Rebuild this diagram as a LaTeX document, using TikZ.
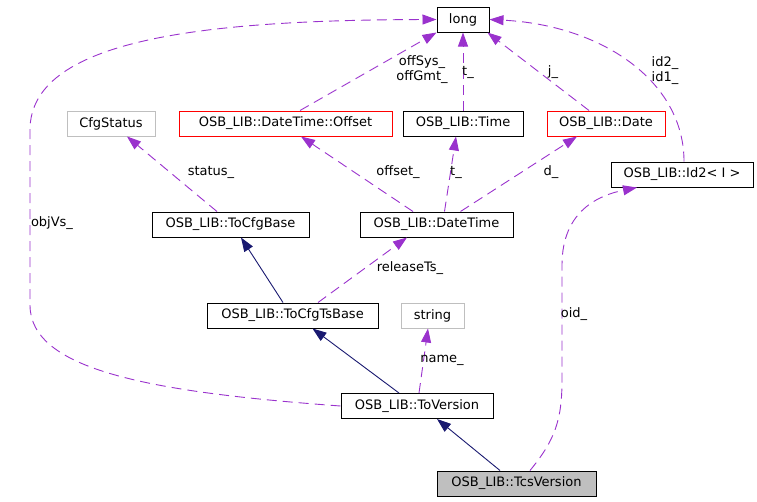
\documentclass[tikz,border=0pt]{standalone}
\usepackage{fontspec}
\setmainfont{DejaVu Sans}
\usetikzlibrary{arrows.meta}
\definecolor{usepurple}{HTML}{9A32CD}
\definecolor{basenavy}{HTML}{191970}
\definecolor{undocgray}{HTML}{BFBFBF}
\tikzstyle{cls}=[draw=black,line width=1pt,minimum height=25pt,inner sep=0pt,font=\fontsize{13}{15}\selectfont]
\tikzstyle{undoc}=[cls,draw=undocgray]
\tikzstyle{nodoc}=[cls,draw=red]
\tikzstyle{usage}=[usepurple,line width=0.9pt,dash pattern=on 10pt off 6pt,-{Triangle[length=14pt,width=10pt]}]
\tikzstyle{inherit}=[basenavy,line width=0.9pt,-{Triangle[length=14pt,width=10pt]}]
\tikzstyle{lbl}=[text=black,font=\fontsize{13}{15}\selectfont,inner sep=0pt,align=center]

\begin{document}
\begin{tikzpicture}[x=1pt,y=-1pt]
\useasboundingbox (0, 0) rectangle (757, 501);
\node[cls, minimum width=52pt] at (463, 19.5) (long) {long};
\node[undoc, minimum width=88pt] at (111, 123.5) (cfgstatus) {CfgStatus};
\node[nodoc, minimum width=213pt] at (285.5, 123.5) (offset) {OSB\_LIB::DateTime::Offset};
\node[cls, minimum width=120pt] at (463, 123.5) (time) {OSB\_LIB::Time};
\node[nodoc, minimum width=118pt] at (606, 123.5) (date) {OSB\_LIB::Date};
\node[cls, minimum width=142pt] at (682, 174.5) (id2) {OSB\_LIB::Id2< I >};
\node[cls, minimum width=157pt] at (230.5, 224.5) (cfgbase) {OSB\_LIB::ToCfgBase};
\node[cls, minimum width=153pt] at (436.5, 224.5) (datetime) {OSB\_LIB::DateTime};
\node[cls, minimum width=171pt] at (292.5, 315.5) (tsbase) {OSB\_LIB::ToCfgTsBase};
\node[undoc, minimum width=63pt] at (432.5, 315.5) (string) {string};
\node[cls, minimum width=152pt] at (417, 406) (version) {OSB\_LIB::ToVersion};
\node[cls, fill=undocgray, minimum width=159pt] at (516.5, 483.5) (tcs) {OSB\_LIB::TcsVersion};
% members pointing at long
\draw[usage] ([xshift=14.5pt]offset.north) -- (long.south west) node[lbl] at (422, 70) {offSys\_\\offGmt\_};
\draw[usage] (time.north) -- (long.south) node[lbl] at (468, 72) {t\_};
\draw[usage] ([xshift=-17pt]date.north) -- ([xshift=-2pt]long.south east) node[lbl] at (553, 72) {j\_};
\draw[usage] ([xshift=2pt]id2.north) .. controls (684, 80) and (600, 25) .. (long.east) node[lbl] at (665, 71) {id2\_\\id1\_};
\draw[usage] (version.west) .. controls (150, 392) and (30, 370) .. (30, 305) -- (30, 130) .. controls (30, 40) and (200, 20) .. (long.west) node[lbl] at (52, 223) {objVs\_};
% members of the middle row
\draw[usage] ([xshift=-13.5pt]cfgbase.north) -- ([xshift=16pt]cfgstatus.south) node[lbl] at (211, 172) {status\_};
\draw[usage] ([xshift=-23.5pt]datetime.north) -- ([xshift=15.5pt]offset.south) node[lbl] at (398, 172) {offset\_};
\draw[usage] ([xshift=8pt]datetime.north) -- ([xshift=-7pt]time.south) node[lbl] at (456, 172) {t\_};
\draw[usage] ([xshift=24pt]datetime.north) -- ([xshift=-29pt]date.south) node[lbl] at (551, 172) {d\_};
\draw[usage] ([xshift=25.5pt]tsbase.north) -- ([xshift=-29.5pt]datetime.south) node[lbl] at (410, 268) {releaseTs\_};
\draw[usage] ([xshift=2pt]version.north) -- ([xshift=-4.5pt]string.south) node[lbl] at (442, 360) {name\_};
\draw[usage] ([xshift=13.5pt]tcs.north) .. controls (555, 440) and (562, 420) .. (562, 380) -- (562, 265) .. controls (562, 210) and (600, 195) .. ([xshift=-45pt]id2.south) node[lbl] at (574, 314) {oid\_};
% base classes
\draw[inherit] ([xshift=-9.5pt]tsbase.north) -- ([xshift=10.5pt]cfgbase.south);
\draw[inherit] ([xshift=-18pt]version.north) -- ([xshift=20pt]tsbase.south);
\draw[inherit] ([xshift=-16.5pt]tcs.north) -- ([xshift=20pt]version.south);
\end{tikzpicture}
\end{document}
